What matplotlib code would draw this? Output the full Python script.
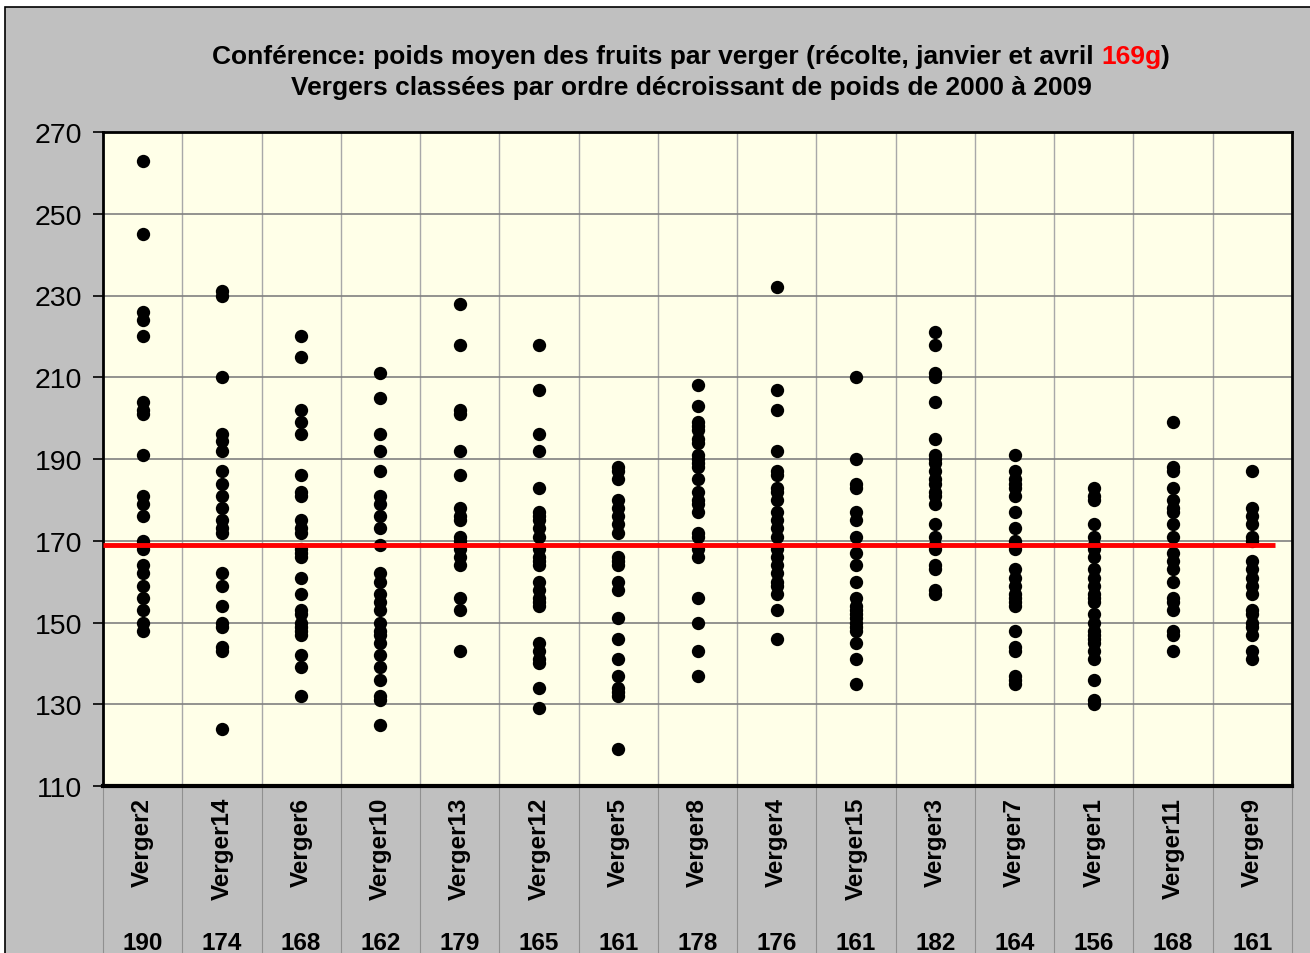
import matplotlib
matplotlib.use("Agg")
import matplotlib.pyplot as plt
from matplotlib.patches import Rectangle
from matplotlib.lines import Line2D
import matplotlib.transforms as mtransforms

plt.rcParams['font.family'] = ['Liberation Sans', 'DejaVu Sans']

vergers = ["Verger2", "Verger14", "Verger6", "Verger10", "Verger13", "Verger12", "Verger5",
           "Verger8", "Verger4", "Verger15", "Verger3", "Verger7", "Verger1", "Verger11", "Verger9"]
moyennes = ["190", "174", "168", "162", "179", "165", "161", "178", "176", "161", "182", "164",
            "156", "168", "161"]

verger2 = [263, 245, 226, 224, 220, 204, 202, 201, 191, 181, 179, 176, 170, 168, 164, 162, 159, 156, 153, 150, 148]
verger14 = [231, 230, 210, 196, 194.5, 192, 187, 184, 181, 178, 175, 173, 172, 162, 159, 154, 150, 149, 144, 143, 124]
verger6 = [220, 215, 202, 199, 196, 186, 182, 181, 175, 173, 172, 168, 167, 166, 161, 157, 153, 152, 150, 149, 148, 147, 142, 139, 132]
verger10 = [211, 205, 196, 192, 187, 181, 179, 176, 173, 169, 162, 160, 157, 155, 153, 150, 148, 147, 145, 142, 139, 136, 132, 131, 125]
verger13 = [228, 218, 202, 201, 192, 186, 178, 176, 175, 171, 170, 168, 166, 164, 156, 153, 143]
verger12 = [218, 207, 196, 192, 183, 177, 176, 175, 173, 171, 168, 166, 165, 164, 160, 158, 156, 155, 154, 145, 143, 141, 140, 134, 129]
verger5 = [188, 187, 185, 180, 178, 176, 174, 172, 166, 165, 164, 160, 158, 151, 146, 141, 137, 134, 133, 132, 119]
verger8 = [208, 203, 199, 198, 197, 195, 194, 191, 190, 189, 188, 185, 182, 180, 179, 177, 172, 171, 168, 166, 156, 150, 143, 137]
verger4 = [232, 207, 202, 192, 187, 186, 183, 182, 180, 177, 175, 173, 171, 168, 166, 164, 162, 160, 159, 157, 153, 146]
verger15 = [210, 190, 184, 183, 177, 175, 171, 167, 164, 160, 156, 154, 153, 152, 151, 150, 149, 148, 145, 141, 135]
verger3 = [221, 218, 211, 210, 204, 195, 191, 190, 189, 187, 185, 184, 182, 181, 179, 174, 171, 169, 168, 164, 163, 158, 157]
verger7 = [191, 187, 185, 184, 183, 181, 177, 173, 170, 169, 168, 163, 161, 159, 157, 156, 155, 154, 148, 144, 143, 137, 136, 135]
verger1 = [183, 181, 180, 174, 171, 169, 168, 166, 163, 161, 159, 157, 156, 155, 152, 150, 148, 147, 146, 145, 143, 141, 136, 131, 130]
verger11 = [199, 188, 187, 183, 180, 178, 177, 174, 171, 167, 165, 163, 160, 156, 155, 153, 148, 147, 143]
verger9 = [187, 178, 176, 174, 171, 170, 165, 163, 161, 159, 157, 153, 152, 150, 149, 147, 143, 141]

series = [verger2, verger14, verger6, verger10, verger13, verger12, verger5, verger8, verger4,
          verger15, verger3, verger7, verger1, verger11, verger9]

moyenne_generale = 169
yticks = [110, 130, 150, 170, 190, 210, 230, 250, 270]

W, H = 1310, 954
fig = plt.figure(figsize=(W / 100, H / 100), dpi=100)
fig.patch.set_facecolor("white")

# outer chart area (grey), cropped at right and bottom
bg = Rectangle((5 / W, -0.01), 1.1, 1 - 8 / H + 0.01, transform=fig.transFigure,
               facecolor="#C0C0C0", edgecolor="black", linewidth=1.2, zorder=-10)
fig.patches.append(bg)

ax = fig.add_axes([103 / W, 1 - 787 / H, (1292 - 103) / W, (787 - 133) / H])
ax.set_zorder(1)
ax.set_facecolor("#FFFFE8")
ax.set_xlim(0.5, len(vergers) + 0.5)
ax.set_ylim(110, 270)

for b in range(1, len(vergers)):
    ax.axvline(b + 0.5, color="#A8A8A8", lw=1.0, zorder=1)
for yv in yticks[1:-1]:
    ax.axhline(yv, color="#808080", lw=1.2, zorder=1)

for i, vals in enumerate(series):
    ax.scatter([i + 1] * len(vals), vals, s=92, color="black", zorder=3, linewidths=0)

ax.plot([0.5, 15.28], [moyenne_generale, moyenne_generale], color="#FF0000", lw=3.5, zorder=4,
        solid_capstyle="butt")

ax.set_yticks(yticks)
ax.set_yticklabels([str(v) for v in yticks], fontsize=20.5)
ax.tick_params(axis="y", length=7, width=1.2, direction="out", pad=8, colors="black")
ax.set_xticks(range(1, len(vergers) + 1))
ax.set_xticklabels(vergers, rotation=90, fontsize=17.5, fontweight="bold", va="top", ha="center")
ax.tick_params(axis="x", length=0, pad=8)

for s in ["left", "top", "right"]:
    ax.spines[s].set_linewidth(2)
ax.spines["bottom"].set_linewidth(3)

trans = mtransforms.blended_transform_factory(ax.transData, ax.transAxes)
for b in range(0, len(vergers) + 1):
    ax.add_line(Line2D([b + 0.5, b + 0.5], [0, -0.3], transform=trans, color="#909090",
                       lw=0.8, clip_on=False, zorder=0))
for i, m in enumerate(moyennes):
    ax.text(i + 1, -0.239, m, transform=trans, ha="center", va="center", fontsize=17.5,
            fontweight="bold")

# title with red portion
t1a = "Conférence: poids moyen des fruits par verger (récolte, janvier et avril "
t1b = "169g"
t1c = ")"
fs = 19
tmp = fig.text(0, 0, t1a, fontsize=fs, fontweight="bold")
tmpb = fig.text(0, 0, t1b, fontsize=fs, fontweight="bold")
tmpc = fig.text(0, 0, t1c, fontsize=fs, fontweight="bold")
fig.canvas.draw()
r = fig.canvas.get_renderer()
wa = tmp.get_window_extent(r).width
wb = tmpb.get_window_extent(r).width
wc = tmpc.get_window_extent(r).width
for t in (tmp, tmpb, tmpc):
    t.remove()
total = wa + wb + wc
cx = 691
x0 = cx - total / 2
y1 = 1 - 57 / H
fig.text(x0 / W, y1, t1a, fontsize=fs, fontweight="bold", va="center", ha="left")
fig.text((x0 + wa) / W, y1, t1b, fontsize=fs, fontweight="bold", va="center", ha="left", color="#FF0000")
fig.text((x0 + wa + wb) / W, y1, t1c, fontsize=fs, fontweight="bold", va="center", ha="left")
fig.text(cx / W, 1 - 88 / H, "Vergers classées par ordre décroissant de poids de 2000 à 2009",
         fontsize=fs, fontweight="bold", va="center", ha="center")

fig.savefig("out.png", dpi=100, facecolor=fig.get_facecolor())
